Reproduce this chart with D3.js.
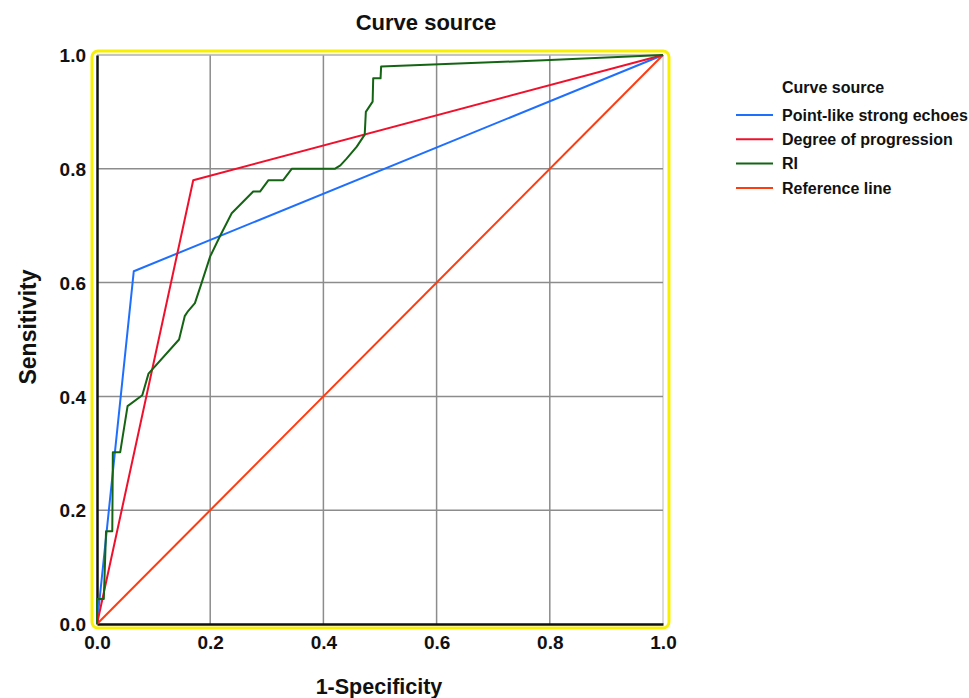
<!DOCTYPE html>
<html>
<head>
<meta charset="utf-8">
<script src="https://cdn.jsdelivr.net/npm/d3@7"></script>
<style>
  body { margin: 0; background: #fff; }
  text { font-family: "Liberation Sans", Arial, sans-serif; }
</style>
</head>
<body>
<div id="chart"></div>
<script>
// ROC curve data (1-specificity, sensitivity)
const seriesNames = ["Point-like strong echoes", "Degree of progression", "RI", "Reference line"];
const seriesColors = ["#1f6fff", "#f0102c", "#146414", "#ff3b10"];

const echoesX = [0, 0.065, 1];
const echoesY = [0, 0.62, 1];

const progressionX = [0, 0.17, 1];
const progressionY = [0, 0.78, 1];

const riX = [0, 0, 0.012, 0.016, 0.027, 0.028, 0.041, 0.054, 0.08, 0.091, 0.145, 0.155, 0.161, 0.173, 0.185, 0.2, 0.217, 0.238, 0.276, 0.288, 0.303, 0.329, 0.344, 0.42, 0.43, 0.441, 0.459, 0.473, 0.475, 0.487, 0.488, 0.501, 0.502, 0.8, 1];
const riY = [0, 0.044, 0.044, 0.163, 0.163, 0.302, 0.302, 0.383, 0.402, 0.44, 0.5, 0.541, 0.55, 0.564, 0.6, 0.646, 0.681, 0.722, 0.76, 0.76, 0.78, 0.78, 0.8, 0.8, 0.806, 0.818, 0.839, 0.86, 0.9, 0.918, 0.959, 0.959, 0.98, 0.991, 1];

const refX = [0, 1];
const refY = [0, 1];

const ticks = [0, 0.2, 0.4, 0.6, 0.8, 1.0];

const width = 969, height = 698;
const svg = d3.select("#chart")
  .append("svg")
  .attr("width", width)
  .attr("height", height);

// scales
const x = d3.scaleLinear().domain([0, 1]).range([97, 663]);
const y = d3.scaleLinear().domain([0, 1]).range([624, 55]);

// yellow frame
svg.append("rect")
  .attr("x", 92).attr("y", 51)
  .attr("width", 577).attr("height", 577)
  .attr("rx", 6)
  .attr("fill", "none")
  .attr("stroke", "#f8f000")
  .attr("stroke-width", 3);

// grid
svg.append("g")
  .selectAll("line.v")
  .data(ticks.slice(1))
  .join("line")
  .attr("x1", d => x(d)).attr("x2", d => x(d))
  .attr("y1", y(0)).attr("y2", y(1))
  .attr("stroke", d => d === 1 ? "#d0d0d0" : "#8c8c8c")
  .attr("stroke-width", 1.5);

svg.append("g")
  .selectAll("line.h")
  .data(ticks.slice(1))
  .join("line")
  .attr("x1", x(0)).attr("x2", x(1))
  .attr("y1", d => y(d)).attr("y2", d => y(d))
  .attr("stroke", d => d === 1 ? "#b0b0b0" : "#8c8c8c")
  .attr("stroke-width", 1.5);

// axes
const xAxis = svg.append("g")
  .attr("transform", `translate(0, ${y(0)})`)
  .call(d3.axisBottom(x).tickValues(ticks).tickFormat(d3.format(".1f")).tickSize(0).tickPadding(12));
const yAxis = svg.append("g")
  .attr("transform", `translate(${x(0)}, 0)`)
  .call(d3.axisLeft(y).tickValues(ticks).tickFormat(d3.format(".1f")).tickSize(0).tickPadding(11));

[xAxis, yAxis].forEach(g => {
  g.select(".domain").attr("stroke", "#111").attr("stroke-width", 2.5);
  g.selectAll("text")
    .style("font-size", "19px")
    .style("font-weight", "bold")
    .attr("fill", "#111");
});
yAxis.selectAll("text").attr("dy", "0.35em");

// curves
const line = d3.line()
  .x(d => x(d[0]))
  .y(d => y(d[1]));

const seriesData = [
  d3.zip(echoesX, echoesY),
  d3.zip(progressionX, progressionY),
  d3.zip(riX, riY),
  d3.zip(refX, refY)
];
const drawOrder = [3, 0, 1, 2];

drawOrder.forEach(i => {
  svg.append("path")
    .datum(seriesData[i])
    .attr("fill", "none")
    .attr("stroke", seriesColors[i])
    .attr("stroke-width", 2)
    .attr("stroke-linejoin", "round")
    .attr("d", line);
});

// title
svg.append("text")
  .attr("x", 426).attr("y", 30)
  .attr("text-anchor", "middle")
  .style("font-size", "22px")
  .style("font-weight", "bold")
  .attr("fill", "#111")
  .text("Curve source");

// axis labels
svg.append("text")
  .attr("x", 379).attr("y", 694)
  .attr("text-anchor", "middle")
  .style("font-size", "21.5px")
  .style("font-weight", "bold")
  .attr("fill", "#111")
  .text("1-Specificity");

svg.append("text")
  .attr("transform", "rotate(-90)")
  .attr("x", -327).attr("y", 36)
  .attr("text-anchor", "middle")
  .style("font-size", "23px")
  .style("font-weight", "bold")
  .attr("fill", "#111")
  .text("Sensitivity");

// legend
const legend = svg.append("g").attr("transform", "translate(736, 0)");
legend.append("text")
  .attr("x", 46).attr("y", 87)
  .attr("dy", "0.35em")
  .style("font-size", "16px")
  .style("font-weight", "bold")
  .attr("fill", "#111")
  .text("Curve source");

seriesNames.forEach((name, i) => {
  const ly = 115 + i * 24.3;
  legend.append("line")
    .attr("x1", 0).attr("x2", 37)
    .attr("y1", ly).attr("y2", ly)
    .attr("stroke", seriesColors[i])
    .attr("stroke-width", 2);
  legend.append("text")
    .attr("x", 46).attr("y", ly)
    .attr("dy", "0.35em")
    .style("font-size", "16px")
    .style("font-weight", "bold")
    .attr("fill", "#111")
    .text(name);
});
</script>
</body>
</html>
